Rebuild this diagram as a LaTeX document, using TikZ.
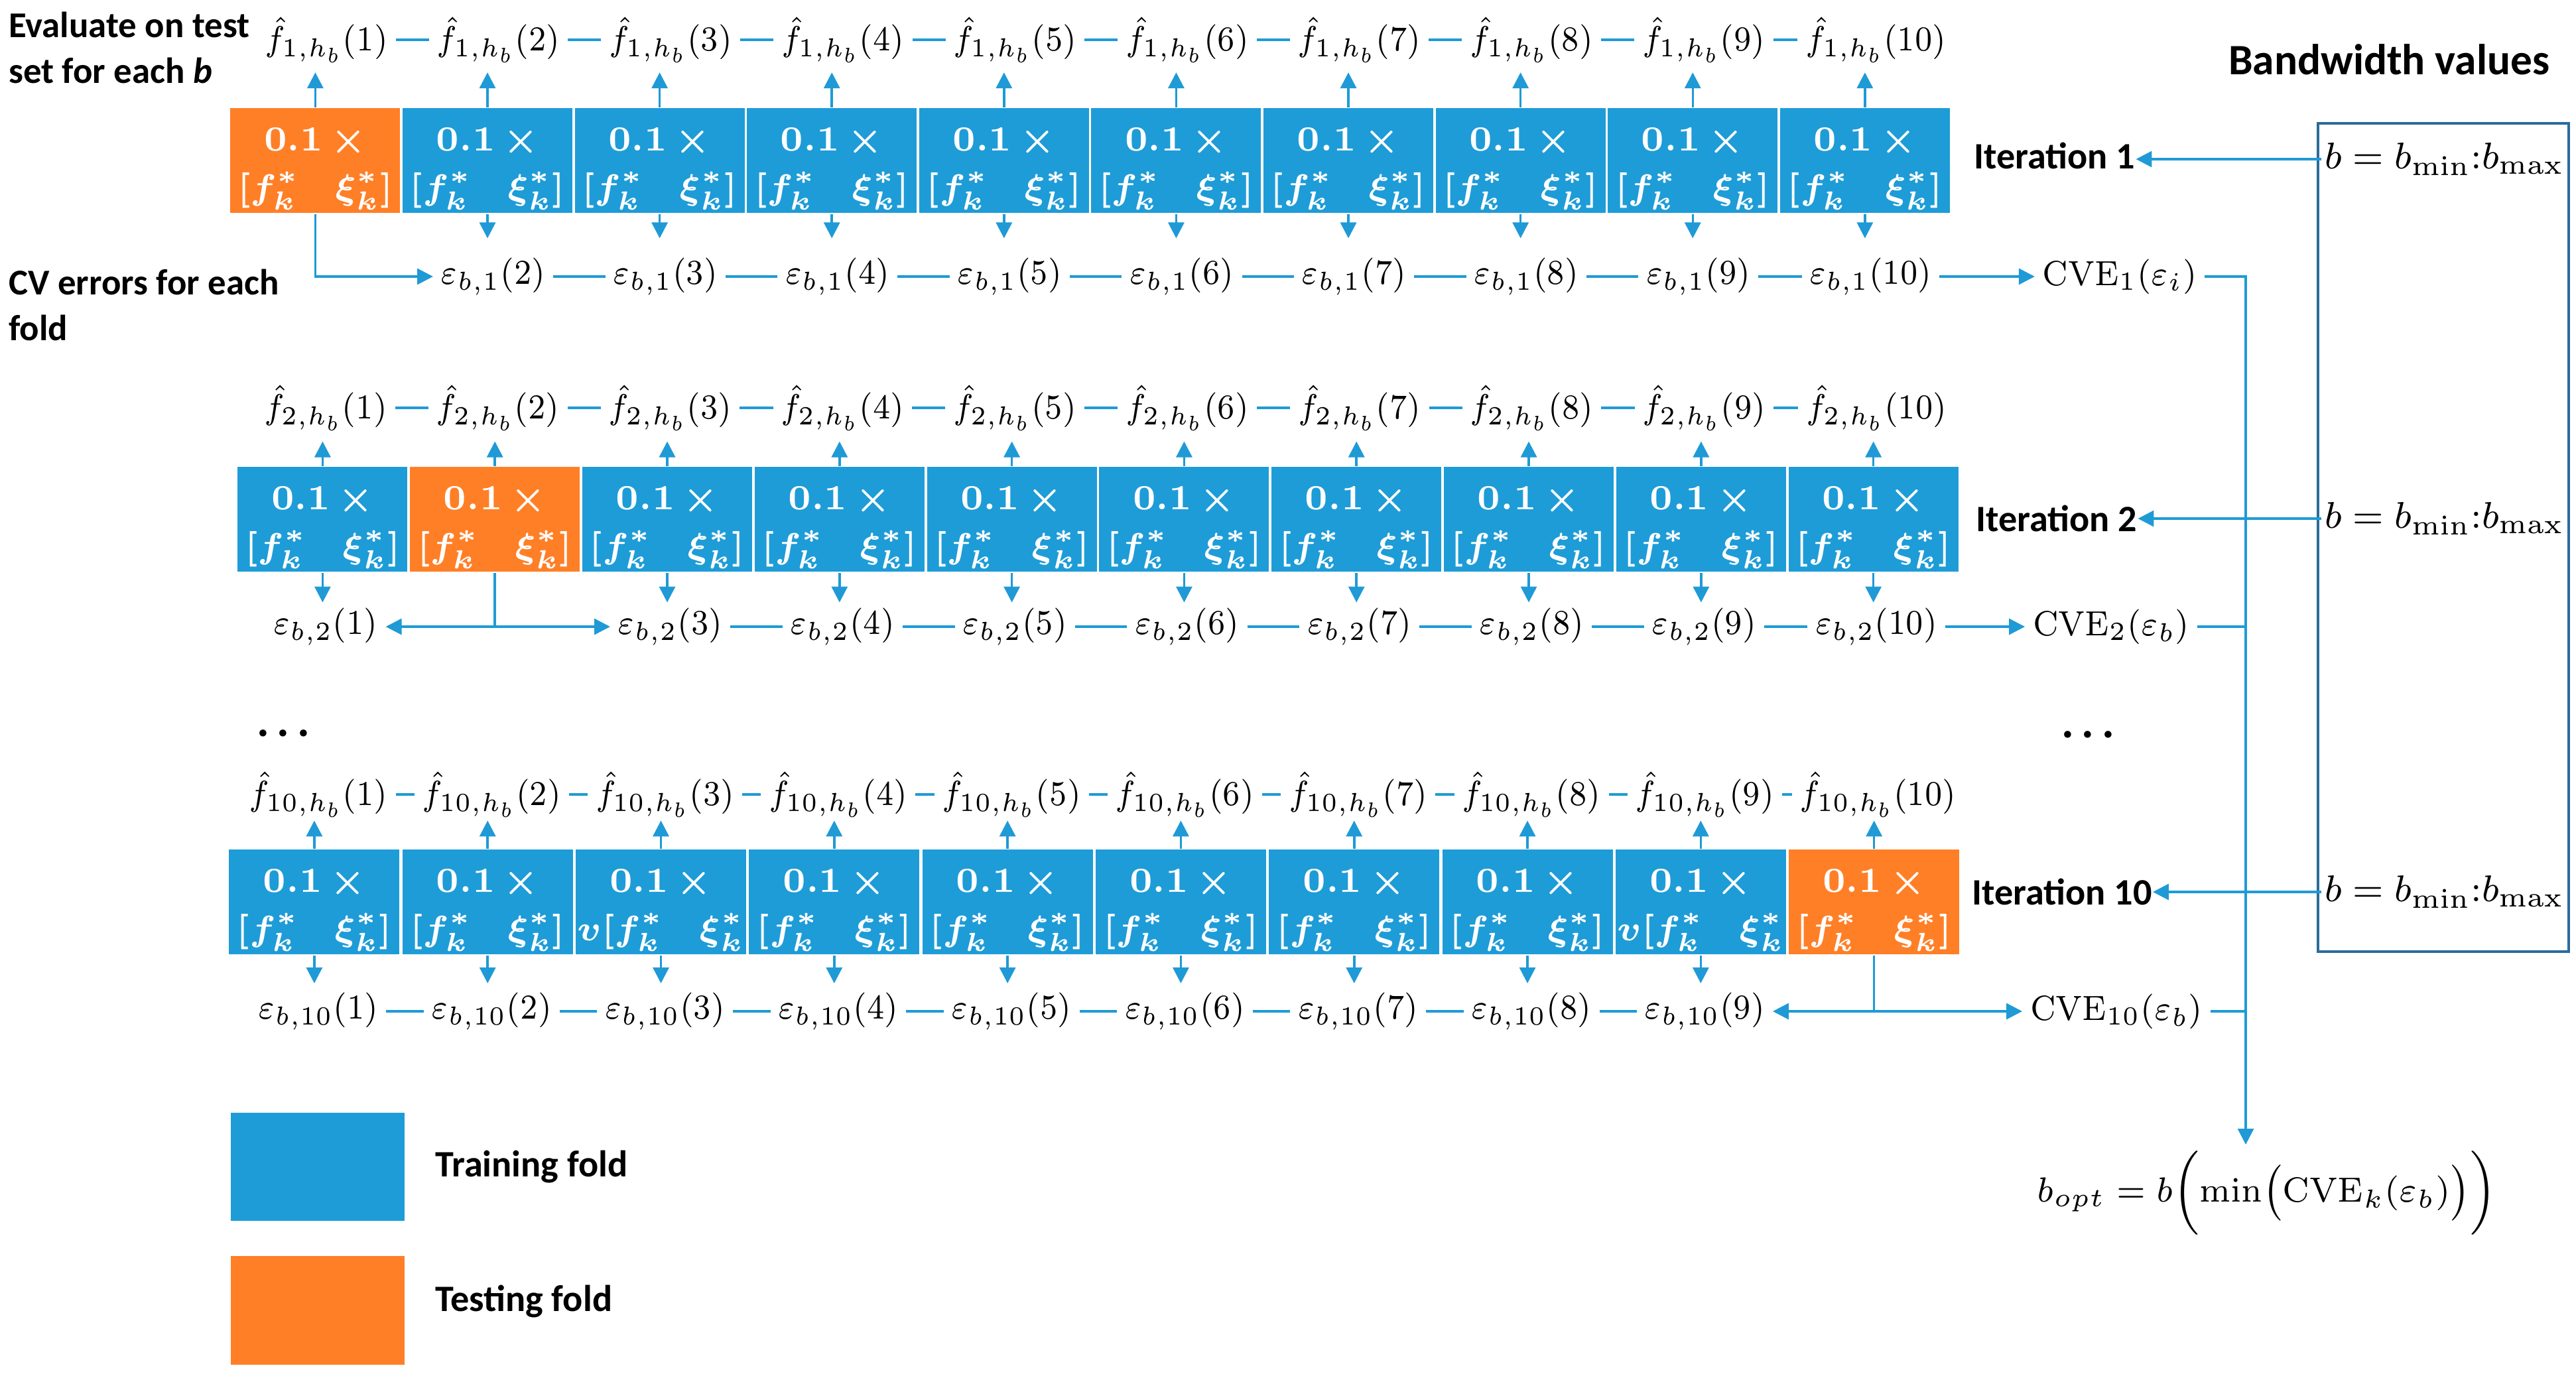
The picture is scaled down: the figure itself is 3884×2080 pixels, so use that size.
\RequirePackage{fix-cm}
\documentclass[tikz,border=0pt]{standalone}
\usepackage{graphicx}
\usepackage[no-math]{fontspec}
\newfontfamily\calibri{Carlito}
\usetikzlibrary{arrows.meta}
\DeclareMathSizes{7.5}{7.5}{5.6}{4.5}
\DeclareMathSizes{7.6}{7.6}{5.6}{4.5}
\definecolor{cblue}{HTML}{1E9CD7}
\definecolor{corange}{HTML}{FF7F27}
\definecolor{cline}{HTML}{1F9AD6}
\definecolor{cframe}{HTML}{2B6C9C}
\newcommand{\nx}[2][0.88]{\scalebox{#1}[1]{#2}}
\newcommand{\bxt}{\rule{0pt}{8.4pt}$0.1\,\times$\\[1pt]$[f_k^*\quad\xi_k^*]$}
\newcommand{\bxv}{\rule{0pt}{8.4pt}$0.1\,\times$\\[1pt]$v[f_k^*\quad\xi_k^*$}
\begin{document}
\begin{tikzpicture}[x=0.05mm,y=-0.05mm,
  fold/.style={rectangle, fill=cblue, minimum width=12.8mm, minimum height=7.9mm, inner sep=0pt,
    anchor=north west, text=white, align=center, font=\fontsize{7.6}{9.4}\selectfont\boldmath},
  mlab/.style={inner xsep=1.5pt, inner ysep=0.6pt, font=\fontsize{7.5}{9}\selectfont},
  conn/.style={draw=cline, line width=0.5pt},
  arr/.style={conn, -{Triangle[length=3.4pt,width=3.4pt]}},
  sans/.style={font=\calibri\bfseries\fontsize{8}{10}\selectfont, inner sep=0pt}]
\useasboundingbox (0,0) rectangle (3884,2080);

% ---------- Row 1 ----------
\foreach \i in {1,...,10}{
  \pgfmathsetmacro\xL{346+259.6*(\i-1)}
  \pgfmathsetmacro\xC{\xL+138}
  \pgfmathsetmacro\xF{\xL+146}
  \ifnum\i=1 \def\bc{corange}\else\def\bc{cblue}\fi
  \node[fold, fill=\bc] (r1b\i) at (\xL,162) {\bxt};
  \node[mlab] (r1f\i) at (\xF,60) {\nx{$\hat f_{1,h_b}(\i)$}};
  \draw[arr, shorten >=7pt] (r1b\i.north) -- (r1b\i.north |- r1f\i.center);
  \ifnum\i>1
    \node[mlab] (r1e\i) at (\xC,417) {\nx{$\varepsilon_{b,1}(\i)$}};
    \draw[arr, shorten >=8.2pt] (r1b\i.south) -- (r1b\i.south |- r1e\i.center);
  \fi
}
\foreach \i [evaluate=\i as \j using int(\i+1)] in {1,...,9}{\draw[conn] (r1f\i.east) -- (r1f\j.west);}
\foreach \i [evaluate=\i as \j using int(\i+1)] in {2,...,9}{\draw[conn] (r1e\i.east) -- (r1e\j.west);}
\draw[arr] (r1b1.south) |- (r1e2.west);

% ---------- Row 2 ----------
\foreach \i in {1,...,10}{
  \pgfmathsetmacro\xL{357+259.8*(\i-1)}
  \pgfmathsetmacro\xC{\xL+134}
  \ifnum\i=2 \def\bc{corange}\else\def\bc{cblue}\fi
  \node[fold, fill=\bc] (r2b\i) at (\xL,703) {\bxt};
  \node[mlab] (r2f\i) at (\xC,615) {\nx{$\hat f_{2,h_b}(\i)$}};
  \draw[arr, shorten >=7.2pt] (r2b\i.north) -- (r2b\i.north |- r2f\i.center);
  \ifnum\i=2 \else
    \node[mlab] (r2e\i) at (\xC,945) {\nx{$\varepsilon_{b,2}(\i)$}};
    \draw[arr, shorten >=5.2pt] (r2b\i.south) -- (r2b\i.south |- r2e\i.center);
  \fi
}
\foreach \i [evaluate=\i as \j using int(\i+1)] in {1,...,9}{\draw[conn] (r2f\i.east) -- (r2f\j.west);}
\foreach \i [evaluate=\i as \j using int(\i+1)] in {3,...,9}{\draw[conn] (r2e\i.east) -- (r2e\j.west);}
\draw[arr] (r2b2.south) |- (r2e1.east);
\draw[arr] (r2b2.south) |- (r2e3.west);

% ---------- Row 10 ----------
\foreach \i in {1,...,10}{
  \pgfmathsetmacro\xL{344+261.3*(\i-1)}
  \pgfmathsetmacro\xC{\xL+136}
  \ifnum\i=10 \def\bc{corange}\else\def\bc{cblue}\fi
  \ifnum\i=3 \def\bt{\bxv}\else\ifnum\i=9 \def\bt{\bxv}\else\def\bt{\bxt}\fi\fi
  \node[fold, fill=\bc, minimum width=12.85mm] (r3b\i) at (\xL,1280) {\bt};
  \node[mlab] (r3f\i) at (\xC,1198) {\nx{$\hat f_{10,h_b}(\i)$}};
  \draw[arr, shorten >=5.6pt] (r3b\i.north) -- (r3b\i.north |- r3f\i.center);
  \ifnum\i<10
    \node[mlab] (r3e\i) at (\xC,1525) {\nx{$\varepsilon_{b,10}(\i)$}};
    \draw[arr, shorten >=6pt] (r3b\i.south) -- (r3b\i.south |- r3e\i.center);
  \fi
}
\foreach \i [evaluate=\i as \j using int(\i+1)] in {1,...,9}{\draw[conn] (r3f\i.east) -- (r3f\j.west);}
\foreach \i [evaluate=\i as \j using int(\i+1)] in {1,...,8}{\draw[conn] (r3e\i.east) -- (r3e\j.west);}

% ---------- Left texts ----------
\node[sans, anchor=north west, align=left, font=\calibri\bfseries\fontsize{7.8}{9.8}\selectfont] (evt) at (12,17) {Evaluate on test\\set for each \textit{b}};
\node[sans, anchor=north west, align=left, font=\calibri\bfseries\fontsize{7.8}{9.8}\selectfont] (cvt) at (12,405) {CV errors for each\\fold};
\node[font=\calibri\bfseries\fontsize{10}{10}\selectfont] (dotl) at (427,1106) {.\,.\,.};
\node[font=\calibri\bfseries\fontsize{10}{10}\selectfont] (dotr) at (3148,1108) {.\,.\,.};

% ---------- CVE and result ----------
\node[mlab] (cve1) at (3196,417) {\nx[0.9]{$\mathrm{CVE}_1(\varepsilon_i)$}};
\node[mlab] (cve2) at (3183,945) {\nx[0.9]{$\mathrm{CVE}_2(\varepsilon_b)$}};
\node[mlab] (cve10) at (3191,1525) {\nx[0.9]{$\mathrm{CVE}_{10}(\varepsilon_b)$}};
\node[mlab] (bopt) at (3418,1797) {\nx[0.95]{$b_{opt} = b\Bigl(\min\bigl(\mathrm{CVE}_k(\varepsilon_b)\bigr)\Bigr)$}};

\draw[arr] (r1e10.east) -- (r1e10.east -| cve1.west);
\draw[arr] (r2e10.east) -- (r2e10.east -| cve2.west);
\draw[arr] (r3b10.south) |- (r3e9.east);
\draw[arr] (r3b10.south) |- (cve10.west);

\coordinate (vj) at (3386,417);
\draw[arr] (cve1.east) -- (cve1.east -| vj) -- (vj |- bopt.north);
\draw[conn] (cve2.east) -- (cve2.east -| vj);
\draw[conn] (cve10.east) -- (cve10.east -| vj);

% ---------- Bandwidth values ----------
\node[font=\calibri\bfseries\fontsize{9.3}{11}\selectfont, inner sep=0pt] (bwt) at (3602,90) {Bandwidth values};
\node[draw=cframe, line width=0.6pt, anchor=north west, minimum width=18.9mm, minimum height=62.45mm, inner sep=0pt] (bw) at (3493,184) {};
\node[mlab, anchor=west, inner xsep=0.6pt, font=\fontsize{8}{10}\selectfont] (bv1) at (3500,240) {$b = b_{\min}{:}b_{\max}$};
\node[mlab, anchor=west, inner xsep=0.6pt, font=\fontsize{8}{10}\selectfont] (bv2) at (3500,782) {$b = b_{\min}{:}b_{\max}$};
\node[mlab, anchor=west, inner xsep=0.6pt, font=\fontsize{8}{10}\selectfont] (bv3) at (3500,1345) {$b = b_{\min}{:}b_{\max}$};

\node[sans, anchor=west] (it1) at (2975,235) {Iteration 1};
\node[sans, anchor=west] (it2) at (2978,782) {Iteration 2};
\node[sans, anchor=west] (it10) at (2972,1345) {Iteration 10};
\draw[arr] (bv1.west) -- (bv1.west -| it1.east);
\draw[arr] (bv2.west) -- (bv2.west -| it2.east);
\draw[arr] (bv3.west) -- (bv3.west -| it10.east);

% ---------- Legend ----------
\node[fill=cblue, minimum width=13.1mm, minimum height=8.15mm, inner sep=0pt, anchor=north west] (legtr) at (347,1677) {};
\node[fill=corange, minimum width=13.1mm, minimum height=8.2mm, inner sep=0pt, anchor=north west] (legte) at (347,1893) {};
\node[sans, anchor=west] (legtrt) at (655,1760) {Training fold};
\node[sans, anchor=west] (legtet) at (655,1962) {Testing fold};
\end{tikzpicture}
\end{document}
